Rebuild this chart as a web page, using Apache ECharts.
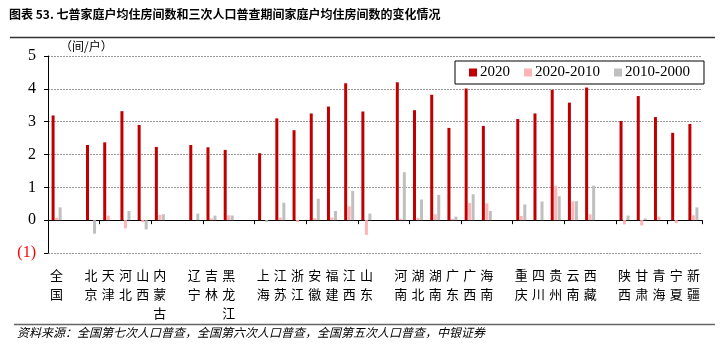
<!DOCTYPE html>
<html>
<head>
<meta charset="utf-8">
<script src="https://cdn.jsdelivr.net/npm/echarts@6/dist/echarts.min.js"></script>
<style>
  html, body { margin: 0; padding: 0; background: #fff; }
  #chart { width: 724px; height: 352px; }
</style>
</head>
<body>
<div id="chart"></div>
<script>
// categories ('' = spacer between regions)
var regions = ['全国', '', '北京', '天津', '河北', '山西', '内蒙古', '', '辽宁', '吉林', '黑龙江', '',
  '上海', '江苏', '浙江', '安徽', '福建', '江西', '山东', '',
  '河南', '湖北', '湖南', '广东', '广西', '海南', '',
  '重庆', '四川', '贵州', '云南', '西藏', '',
  '陕西', '甘肃', '青海', '宁夏', '新疆'];

var rooms2020 = [3.19, null, 2.29, 2.37, 3.32, 2.90, 2.23, null, 2.29, 2.22, 2.14, null,
  2.04, 3.10, 2.74, 3.25, 3.46, 4.17, 3.31, null,
  4.20, 3.35, 3.82, 2.81, 4.01, 2.87, null,
  3.08, 3.25, 3.97, 3.58, 4.04, null,
  3.02, 3.78, 3.14, 2.66, 2.93];

var chg2020_2010 = [0.07, null, 0.0, 0.14, -0.25, -0.06, 0.16, null, 0.0, 0.05, 0.15, null,
  0.0, 0.08, -0.06, 0.06, 0.08, 0.42, -0.45, null,
  0.04, 0.07, 0.18, 0.04, 0.52, 0.51, null,
  0.13, 0.0, 1.05, 0.57, 0.18, null,
  -0.13, -0.16, 0.11, -0.09, 0.15];

var chg2010_2000 = [0.39, null, -0.41, 0.0, 0.28, -0.28, 0.18, null, 0.20, 0.14, 0.14, null,
  -0.05, 0.53, 0.0, 0.65, 0.28, 0.89, 0.20, null,
  1.46, 0.63, 0.77, 0.11, 0.79, 0.28, null,
  0.48, 0.57, 0.73, 0.58, 1.05, null,
  0.14, 0.05, 0.0, 0.0, 0.39];

var seriesNames = ['2020', '2020-2010', '2010-2000'];
var colors = ['#C00000', '#FFB5B8', '#BFBFBF'];

var yTicks = { min: -1, max: 5, interval: 1 };

var serif = '"Liberation Serif", "Times New Roman", serif';
var cjk = '"Noto Sans CJK SC", sans-serif';

var chart = echarts.init(document.getElementById('chart'));

var data = [rooms2020, chg2020_2010, chg2010_2000];

chart.setOption({
  animation: false,
  color: colors,
  grid: { left: 48, right: 22, top: 56, bottom: 99, containLabel: false },
  legend: {
    data: seriesNames,
    left: 455,
    top: 61,
    width: 237,
    padding: [4, 14, 4, 14],
    itemGap: 14,
    itemWidth: 8,
    itemHeight: 8,
    borderColor: '#000',
    borderWidth: 1,
    icon: 'rect',
    textStyle: { fontFamily: serif, fontSize: 15, color: '#000', padding: [0, 0, 0, -2] }
  },
  xAxis: [
    {
      type: 'category',
      data: regions,
      axisLine: { onZero: true, lineStyle: { color: '#000', width: 1 } },
      axisTick: { show: true, length: 4, lineStyle: { color: '#000' } },
      axisLabel: { show: false }
    },
    {
      type: 'category',
      data: regions,
      position: 'bottom',
      axisLine: { show: false, onZero: false },
      axisTick: { show: false },
      axisLabel: {
        margin: 13,
        interval: 0,
        fontFamily: cjk,
        fontSize: 13,
        lineHeight: 19,
        color: '#000',
        formatter: function (v) { return v.split('').join('\n'); }
      }
    }
  ],
  yAxis: {
    type: 'value',
    min: yTicks.min,
    max: yTicks.max,
    interval: yTicks.interval,
    axisLine: { show: true, lineStyle: { color: '#000', width: 1 } },
    axisTick: { show: true, length: 4, lineStyle: { color: '#000' } },
    splitLine: { show: true, lineStyle: { color: '#999', type: [2, 1], width: 1 } },
    axisLabel: {
      margin: 12,
      fontFamily: serif,
      fontSize: 16,
      color: '#000',
      formatter: function (v) { return v < 0 ? '{neg|(' + (-v) + ')}' : String(v); },
      rich: { neg: { color: '#FF0000', fontFamily: serif, fontSize: 16 } }
    }
  },
  series: seriesNames.map(function (n, i) {
    return {
      name: n,
      type: 'bar',
      xAxisIndex: 0,
      data: data[i],
      barWidth: 3,
      barGap: '17%'
    };
  }),
  graphic: [
    {
      type: 'text', left: 9, top: 8,
      style: {
        text: '图表 53. 七普家庭户均住房间数和三次人口普查期间家庭户均住房间数的变化情况',
        font: 'bold 12px ' + cjk, fill: '#000'
      }
    },
    {
      type: 'line', shape: { x1: 10, y1: 37.5, x2: 715, y2: 37.5 },
      style: { stroke: '#333', lineWidth: 1.5 }
    },
    {
      type: 'text', left: 60, top: 40,
      style: { text: '（间/户）', font: '12px ' + cjk, fill: '#000' }
    },
    {
      type: 'line', shape: { x1: 14, y1: 324.5, x2: 715, y2: 324.5 },
      style: { stroke: '#666', lineWidth: 1.5 }
    },
    {
      type: 'text', left: 17, top: 326,
      style: {
        text: '资料来源：全国第七次人口普查，全国第六次人口普查，全国第五次人口普查，中银证券',
        font: 'italic 12px ' + cjk, fill: '#000'
      }
    }
  ]
});
</script>
</body>
</html>
